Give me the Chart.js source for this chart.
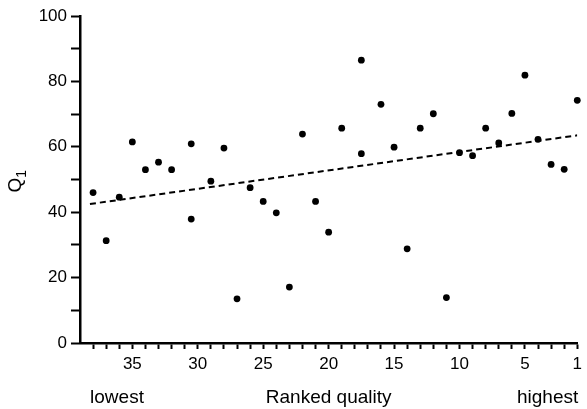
<!DOCTYPE html>
<html>
<head>
<meta charset="utf-8">
<script src="https://cdn.jsdelivr.net/npm/chart.js@4.4.1/dist/chart.umd.min.js"></script>
<style>
  html, body { margin: 0; padding: 0; background: #fff; }
  #wrap { width: 587px; height: 409px; }
</style>
</head>
<body>
<div id="wrap"><canvas id="chart"></canvas></div>
<script>
// ranked quality (38 = lowest, 1 = highest), ties share the mean rank
const ranks = [38, 37, 36, 35, 34, 33, 32, 30.5, 30.5, 29, 28, 27, 26, 25, 24, 23, 22, 21, 20, 19,
  17.5, 17.5, 16, 15, 14, 13, 12, 11, 10, 9, 8, 7, 6, 5, 4, 3, 2, 1];
const q1Values = [46.0, 31.3, 44.6, 61.5, 53.0, 55.3, 53.0, 60.9, 37.9, 49.5, 59.6, 13.5, 47.5, 43.3, 39.8, 17.1, 63.9, 43.3, 33.9, 65.7,
  86.5, 57.9, 73.0, 59.9, 28.8, 65.7, 70.1, 13.9, 58.2, 57.3, 65.7, 61.2, 70.2, 81.9, 62.3, 54.6, 53.1, 74.2];

// fitted trend line end points
const fitX = [38.24, 1];
const fitY = [42.5, 63.5];

const xTickLabels = [35, 30, 25, 20, 15, 10, 5, 1];
const yTickLabels = [0, 20, 40, 60, 80, 100];

const FONT = "'Liberation Sans', Arial, Helvetica, sans-serif";

const textPlugin = {
  id: 'extraText',
  afterDraw(chart) {
    const ctx = chart.ctx;
    const x = chart.scales.x;
    const area = chart.chartArea;
    ctx.save();
    ctx.fillStyle = '#000';
    ctx.font = '19px ' + FONT;
    ctx.textBaseline = 'alphabetic';
    const yText = 403;
    ctx.textAlign = 'left';
    ctx.fillText('lowest', x.getPixelForValue(38) - 3, yText);
    ctx.textAlign = 'center';
    ctx.fillText('Ranked quality', (area.left + area.right) / 2, yText);
    ctx.textAlign = 'right';
    ctx.fillText('highest', x.getPixelForValue(1) + 1, yText);

    // y axis title Q1 with subscript
    const cy = (area.top + area.bottom) / 2;
    ctx.translate(21, cy + 13);
    ctx.rotate(-Math.PI / 2);
    ctx.textAlign = 'left';
    ctx.font = '19px ' + FONT;
    ctx.fillText('Q', 0, 0);
    const qw = ctx.measureText('Q').width;
    ctx.font = '14px ' + FONT;
    ctx.fillText('1', qw, 5);
    ctx.restore();
  }
};

new Chart(document.getElementById('chart'), {
  type: 'scatter',
  data: {
    datasets: [
      {
        label: 'Q1',
        data: ranks.map((r, i) => ({ x: r, y: q1Values[i] })),
        backgroundColor: '#000',
        borderColor: '#000',
        pointRadius: 3.4,
        pointBorderWidth: 0,
        clip: false
      },
      {
        label: 'fit',
        type: 'line',
        data: fitX.map((r, i) => ({ x: r, y: fitY[i] })),
        borderColor: '#000',
        borderWidth: 2,
        borderDash: [6, 4],
        pointRadius: 0,
        fill: false
      }
    ]
  },
  options: {
    responsive: true,
    maintainAspectRatio: false,
    animation: false,
    layout: { padding: { top: 16, right: 6, left: 0, bottom: 0 } },
    plugins: {
      legend: { display: false },
      tooltip: { enabled: false }
    },
    scales: {
      x: {
        type: 'linear',
        reverse: true,
        min: 1,
        max: 39,
        afterFit(s) { s.height = 66; },
        border: { display: true, color: '#000', width: 2.5 },
        grid: {
          drawOnChartArea: false,
          drawTicks: true,
          tickLength: 6,
          tickWidth: 2,
          tickColor: c => (c.tick && c.tick.value === 39 ? 'rgba(0,0,0,0)' : '#000')
        },
        ticks: {
          stepSize: 1,
          autoSkip: false,
          maxRotation: 0,
          padding: 5,
          color: '#000',
          font: { family: FONT, size: 17 },
          callback: v => (xTickLabels.includes(v) ? String(v) : '')
        }
      },
      y: {
        min: 0,
        max: 100,
        afterFit(s) { s.width = 80; },
        border: { display: true, color: '#000', width: 2.5 },
        grid: {
          drawOnChartArea: false,
          drawTicks: true,
          tickLength: 9,
          tickWidth: 2,
          tickColor: '#000'
        },
        ticks: {
          stepSize: 10,
          padding: 4,
          color: '#000',
          font: { family: FONT, size: 17 },
          callback: v => (yTickLabels.includes(v) ? String(v) : '')
        }
      }
    }
  },
  plugins: [textPlugin]
});
</script>
</body>
</html>
